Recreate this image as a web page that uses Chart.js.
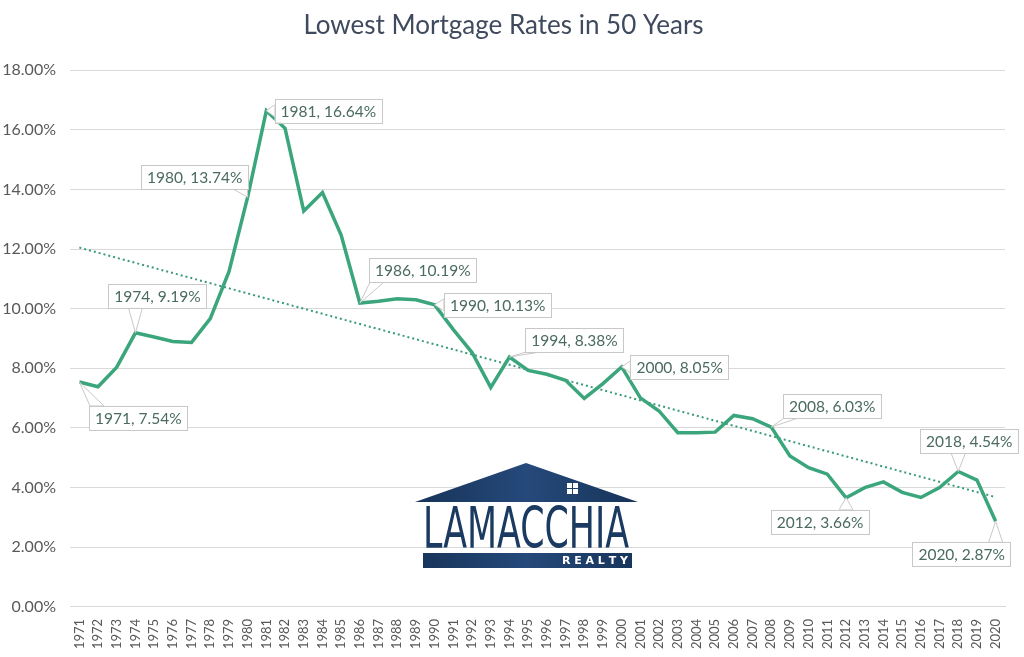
<!DOCTYPE html>
<html>
<head>
<meta charset="utf-8">
<title>Lowest Mortgage Rates in 50 Years</title>
<script src="https://cdn.jsdelivr.net/npm/chart.js@4.4.1/dist/chart.umd.min.js"></script>
<style>
  html, body { margin: 0; padding: 0; background: #ffffff; }
  #wrap { width: 1024px; height: 657px; }
</style>
</head>
<body>
<div id="wrap"><canvas id="myChart" width="1024" height="657"></canvas></div>
<script>
"use strict"

// år på x-axeln
let years = [];
for (let y = 1971; y <= 2020; y++) years.push(String(y));

// lägsta räntan per år (%)
let rates = [7.54, 7.38, 8.04, 9.19, 9.05, 8.90, 8.87, 9.67, 11.24, 13.74,
             16.64, 16.05, 13.28, 13.90, 12.47, 10.19, 10.25, 10.33, 10.30, 10.13,
             9.30, 8.53, 7.36, 8.38, 7.93, 7.80, 7.60, 6.99, 7.49, 8.05,
             7.01, 6.57, 5.84, 5.84, 5.86, 6.42, 6.31, 6.03, 5.06, 4.67,
             4.45, 3.66, 4.00, 4.19, 3.84, 3.67, 4.00, 4.54, 4.25, 2.87];

// trendlinjen, avläst i början och slutet
let trendStart = 12.05;
let trendEnd = 3.68;

// y-axelns steg
let yTicks = [0, 2, 4, 6, 8, 10, 12, 14, 16, 18];

// vilka år som har etiketter, och var rutan sitter (dx, dy från punkten)
let calloutYears = ["1971", "1974", "1980", "1981", "1986", "1990", "1994", "2000", "2008", "2012", "2018", "2020"];
let calloutOffsets = [[59, 36], [22, -37], [-53, -20], [62, 0], [63, -33], [63, 0],
                      [65, -17], [58, 0], [61, -21], [-26, 24], [11, -30], [-34, 33]];

const FONT = "Lato, 'Noto Sans', sans-serif";

let trend = years.map((y, i) => i === 0 ? trendStart : (i === years.length - 1 ? trendEnd : null));

/**
 * Ritar en rektangel med en kil ner till punkten
 */
function drawCallout(ctx, px, py, cx, cy, text) {
  ctx.font = "15.5px " + FONT;
  let tw = ctx.measureText(text).width;
  let bw = tw + 12, bh = 24;
  let bx = cx - bw / 2, by = cy - bh / 2;

  // närmaste punkt på rutans kant
  let nx = Math.min(Math.max(px, bx), bx + bw);
  let ny = Math.min(Math.max(py, by), by + bh);
  let e1, e2;
  if ((nx === bx || nx === bx + bw) && ny > by && ny < by + bh) {
    let yy = Math.min(Math.max(ny, by + 6), by + bh - 6);
    e1 = [nx, yy - 6]; e2 = [nx, yy + 6];
  } else {
    let xx = Math.min(Math.max(nx, bx + 8), bx + bw - 8);
    e1 = [xx - 7, ny]; e2 = [xx + 7, ny];
  }

  ctx.save();
  ctx.strokeStyle = "#c8c8c8";
  ctx.fillStyle = "#ffffff";
  ctx.lineWidth = 1;
  ctx.beginPath();
  ctx.moveTo(px, py);
  ctx.lineTo(e1[0], e1[1]);
  ctx.lineTo(e2[0], e2[1]);
  ctx.closePath();
  ctx.fill();
  ctx.stroke();

  ctx.fillRect(bx, by, bw, bh);
  ctx.strokeRect(Math.round(bx) + 0.5, Math.round(by) + 0.5, Math.round(bw), bh);

  ctx.fillStyle = "#4a6b5e";
  ctx.textAlign = "center";
  ctx.textBaseline = "middle";
  ctx.fillText(text, cx, cy + 1);
  ctx.restore();
}

// etiketterna ovanpå linjen
const calloutPlugin = {
  id: "callouts",
  afterDatasetsDraw(chart) {
    const ctx = chart.ctx;
    const meta = chart.getDatasetMeta(0);
    calloutYears.forEach((yr, k) => {
      let i = years.indexOf(yr);
      let pt = meta.data[i];
      let off = calloutOffsets[k];
      let text = yr + ", " + rates[i].toFixed(2) + "%";
      drawCallout(ctx, pt.x, pt.y, pt.x + off[0], pt.y + off[1], text);
    });
  }
};

// loggan i mitten av diagrammet
const logoPlugin = {
  id: "logo",
  beforeDatasetsDraw(chart) {
    const ctx = chart.ctx;
    ctx.save();
    let grad = ctx.createLinearGradient(415, 0, 638, 0);
    grad.addColorStop(0, "#173459");
    grad.addColorStop(0.5, "#25497a");
    grad.addColorStop(1, "#173459");

    // taket
    ctx.fillStyle = grad;
    ctx.beginPath();
    ctx.moveTo(415, 502);
    ctx.lineTo(526, 463);
    ctx.lineTo(638, 502);
    ctx.closePath();
    ctx.fill();

    // fönstret
    ctx.fillStyle = "#ffffff";
    ctx.fillRect(567, 483, 5, 5);
    ctx.fillRect(573, 483, 5, 5);
    ctx.fillRect(567, 489, 5, 5);
    ctx.fillRect(573, 489, 5, 5);

    // texten
    ctx.fillStyle = "#1b3a62";
    ctx.font = "57px 'DejaVu Sans Condensed', 'Liberation Sans Narrow', sans-serif";
    ctx.textBaseline = "alphabetic";
    let w = ctx.measureText("LAMACCHIA").width;
    ctx.translate(423, 548);
    ctx.scale(206 / w, 1);
    ctx.fillText("LAMACCHIA", 0, 0);
    ctx.setTransform(1, 0, 0, 1, 0, 0);

    // list med REALTY
    ctx.fillStyle = grad;
    ctx.fillRect(423, 553, 209, 15);
    ctx.fillStyle = "#ffffff";
    ctx.font = "bold 11px 'DejaVu Sans', sans-serif";
    ctx.textAlign = "right";
    ctx.textBaseline = "middle";
    ctx.fillText("R E A L T Y", 628, 561);
    ctx.restore();
  }
};

const ctx = document.getElementById("myChart");

new Chart(ctx, {
  type: "line",
  data: {
    labels: years,
    datasets: [{
      label: "Rate",
      data: rates,
      borderColor: "#3ba57c",
      borderWidth: 3.5,
      pointRadius: 0,
      tension: 0,
      order: 1
    }, {
      label: "Trend",
      data: trend,
      borderColor: "#3a9a7a",
      borderWidth: 2,
      borderDash: [2, 3],
      pointRadius: 0,
      spanGaps: true,
      order: 2
    }]
  },
  options: {
    responsive: false,
    animation: false,
    layout: { padding: { left: 2, right: 19, top: 0, bottom: 4 } },
    plugins: {
      legend: { display: false },
      tooltip: { enabled: false },
      title: {
        display: true,
        text: "Lowest Mortgage Rates in 50 Years",
        color: "#404a5e",
        font: { family: FONT, size: 26, weight: "normal" },
        padding: { top: 10, bottom: 29 }
      }
    },
    scales: {
      y: {
        min: 0,
        max: 18,
        afterBuildTicks: axis => { axis.ticks = yTicks.map(v => ({ value: v })); },
        afterFit: axis => { axis.width = 68; },
        ticks: {
          color: "#595959",
          font: { family: FONT, size: 16 },
          padding: 14,
          callback: v => v.toFixed(2) + "%"
        },
        grid: { color: "#d9d9d9", drawTicks: false },
        border: { display: false }
      },
      x: {
        offset: true,
        ticks: {
          color: "#595959",
          font: { family: FONT, size: 13 },
          minRotation: 90,
          maxRotation: 90,
          autoSkip: false,
          padding: 4
        },
        grid: { display: false },
        border: { color: "#d9d9d9" }
      }
    }
  },
  plugins: [logoPlugin, calloutPlugin]
});
</script>
</body>
</html>
